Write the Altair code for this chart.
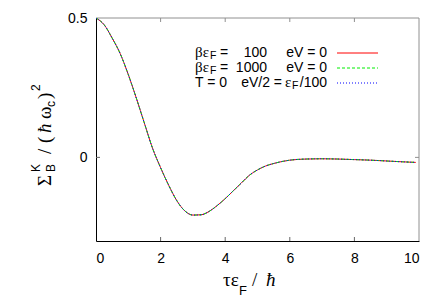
import altair as alt
import pandas as pd

# ---- data ----
tau = [0, 0.25, 0.5, 0.75, 1.0, 1.25, 1.5, 1.75, 2.0, 2.25, 2.5, 2.75, 3.0, 3.25,
       3.5, 3.75, 4.0, 4.25, 4.5, 4.75, 5.0, 5.25, 5.5, 5.75, 6.0, 6.5, 7.0, 7.5,
       8.0, 8.5, 9.0, 9.5, 9.9]
sigma_beta100 = [0.5, 0.476, 0.428, 0.372, 0.297, 0.212, 0.122, 0.033, -0.037, -0.100,
                 -0.155, -0.192, -0.207, -0.206, -0.194, -0.173, -0.148, -0.120, -0.092,
                 -0.064, -0.045, -0.031, -0.022, -0.015, -0.010, -0.006, -0.005, -0.006,
                 -0.008, -0.010, -0.013, -0.016, -0.018]
sigma_beta1000 = [0.5, 0.476, 0.428, 0.372, 0.297, 0.212, 0.122, 0.033, -0.037, -0.100,
                  -0.155, -0.192, -0.207, -0.206, -0.194, -0.173, -0.148, -0.120, -0.092,
                  -0.064, -0.045, -0.031, -0.022, -0.015, -0.010, -0.006, -0.005, -0.006,
                  -0.008, -0.010, -0.013, -0.016, -0.018]
sigma_T0 = [0.5, 0.476, 0.428, 0.372, 0.297, 0.212, 0.122, 0.033, -0.037, -0.100,
            -0.155, -0.192, -0.207, -0.206, -0.194, -0.173, -0.148, -0.120, -0.092,
            -0.064, -0.045, -0.031, -0.022, -0.015, -0.010, -0.006, -0.005, -0.006,
            -0.008, -0.010, -0.013, -0.016, -0.018]
x_ticks = [0, 2, 4, 6, 8, 10]
y_ticks = [0, 0.5]

W, H = 323, 223
SANS = "Liberation Sans"
SERIF = "Liberation Serif"
FS = 14

xs = alt.Scale(domain=[0, 10], nice=False, zero=False)
ys = alt.Scale(domain=[-0.3, 0.5], nice=False, zero=False)

one = pd.DataFrame({"_": [0]})


def series(vals, color, dash):
    df = pd.DataFrame({"t": tau, "s": vals})
    kw = dict(color=color, strokeWidth=1, interpolate="monotone", clip=True)
    if dash:
        kw["strokeDash"] = dash
    return alt.Chart(df).mark_line(**kw).encode(
        x=alt.X("t:Q", scale=xs,
                axis=alt.Axis(values=x_ticks, ticks=False, grid=False, title=None,
                              domainColor="black", labelFont=SANS, labelFontSize=FS,
                              labelColor="black", labelPadding=10)),
        y=alt.Y("s:Q", scale=ys,
                axis=alt.Axis(values=y_ticks, ticks=False, grid=False, title=None,
                              format="~g", domainColor="black", labelFont=SANS,
                              labelFontSize=FS, labelColor="black", labelPadding=9)),
    )


def txt(s, x, y, size=FS, font=SANS, align="left", angle=0, style=None):
    kw = dict(text=s, font=font, fontSize=size, align=align, baseline="alphabetic",
              angle=angle, color="black")
    if style:
        kw["fontStyle"] = style
    return alt.Chart(one).mark_text(**kw).encode(x=alt.value(x), y=alt.value(y))


layers = []

# frame: top and right in gray
layers.append(alt.Chart(one).mark_rule(color="#909090").encode(
    x=alt.value(0), x2=alt.value(W), y=alt.value(0)))
layers.append(alt.Chart(one).mark_rule(color="#909090").encode(
    x=alt.value(W), y=alt.value(0), y2=alt.value(H)))

# inward ticks
dfx = pd.DataFrame({"t": x_ticks[1:-1]})
dfy = pd.DataFrame({"s": y_ticks[:1]})
layers.append(alt.Chart(dfx).mark_rule(color="#666666").encode(
    x=alt.X("t:Q", scale=xs), y=alt.value(H), y2=alt.value(H - 4)))
layers.append(alt.Chart(dfx).mark_rule(color="#909090").encode(
    x=alt.X("t:Q", scale=xs), y=alt.value(0), y2=alt.value(4)))
layers.append(alt.Chart(dfy).mark_rule(color="#666666").encode(
    y=alt.Y("s:Q", scale=ys), x=alt.value(0), x2=alt.value(4)))
layers.append(alt.Chart(dfy).mark_rule(color="#909090").encode(
    y=alt.Y("s:Q", scale=ys), x=alt.value(W), x2=alt.value(W - 4)))

# curves
layers.append(series(sigma_beta100, "#ff0000", None))
layers.append(series(sigma_beta1000, "#00ee00", [3, 2]))
layers.append(series(sigma_T0, "#0000ff", [1, 2]))

# legend samples
for yy, col, dash in [(35, "#ff0000", None), (50, "#00ee00", [3, 2]), (65, "#0000ff", [1, 2])]:
    kw = dict(color=col, strokeWidth=1)
    if dash:
        kw["strokeDash"] = dash
    layers.append(alt.Chart(one).mark_rule(**kw).encode(
        x=alt.value(241), x2=alt.value(282), y=alt.value(yy)))

# legend texts
for yb, num in [(39, "100"), (54, "1000")]:
    layers += [
        txt("βε", 99, yb, size=15, font=SERIF),
        txt("F", 114, yb + 2, size=10.5),
        txt("=", 124, yb),
        txt(num, 171, yb, align="right"),
        txt("eV = 0", 231, yb, align="right"),
    ]
layers += [
    txt("T = 0", 99, 69),
    txt("eV/2 =", 186, 69, align="right"),
    txt("ε", 189, 69, size=15, font=SERIF),
    txt("F", 196, 71, size=10.5),
    txt("/100", 231, 69, align="right"),
]

# x title
layers += [
    txt("τε", 127, 268, size=19, font=SERIF),
    txt("F", 143, 277, size=13),
    txt("/", 156, 268, size=19, font=SERIF),
    txt("ħ", 170, 268, size=19, font=SERIF, style="italic"),
]

# y title (rotated)
R = 270
layers += [
    txt("Σ", -45, 168, size=19, font=SERIF, angle=R),
    txt("K", -56, 154, size=12, angle=R),
    txt("B", -41, 154, size=12, angle=R),
    txt("/", -45, 136, size=19, font=SERIF, angle=R),
    txt("(", -45, 125, size=19, font=SERIF, angle=R),
    txt("ħ", -45, 115, size=19, font=SERIF, angle=R, style="italic"),
    txt("ω", -45, 101, size=19, font=SERIF, angle=R),
    txt("c", -41, 89, size=12, angle=R),
    txt(")", -45, 81, size=19, font=SERIF, angle=R),
    txt("2", -56, 73, size=12, angle=R),
]

chart = alt.layer(*layers).properties(
    width=W, height=H,
    autosize=alt.AutoSizeParams(type="none"),
    padding={"left": 88, "top": 10, "right": 9, "bottom": 56},
    background="white",
).configure_view(stroke=None)

chart.save("out.html", embed_options={"renderer": "svg", "actions": False})
